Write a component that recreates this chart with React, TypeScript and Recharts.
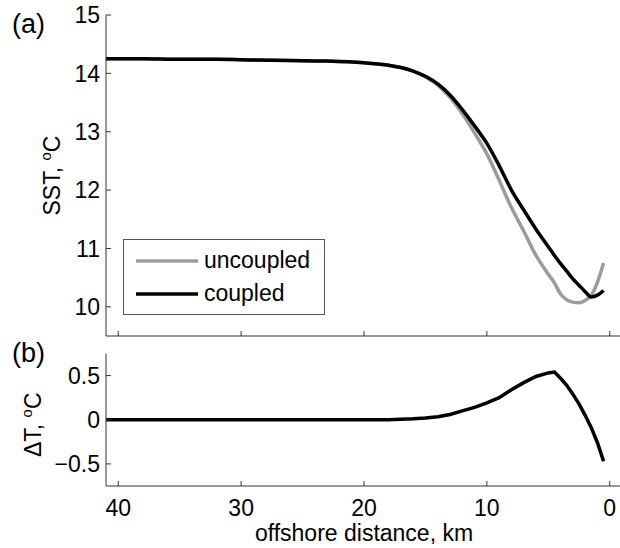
import { LineChart, Line, XAxis, YAxis, Legend, Label } from 'recharts';

// offshore distance (km) and the values
const distanceKm = [41, 38, 35, 32, 29, 26, 23, 20, 18, 17, 16, 15, 14, 13, 12, 11, 10, 9, 8, 7, 6, 5, 4.5, 4, 3.5, 3, 2.5, 2, 1.5, 1, 0.5];
const coupledSst = [14.25, 14.25, 14.24, 14.24, 14.23, 14.22, 14.21, 14.18, 14.14, 14.1, 14.04, 13.95, 13.82, 13.63, 13.38, 13.1, 12.8, 12.42, 12.0, 11.66, 11.33, 11.03, 10.88, 10.74, 10.61, 10.48, 10.37, 10.26, 10.17, 10.2, 10.28];
const uncoupledSst = [14.25, 14.25, 14.24, 14.24, 14.23, 14.22, 14.21, 14.18, 14.14, 14.1, 14.04, 13.94, 13.8, 13.59, 13.31, 12.98, 12.62, 12.17, 11.7, 11.3, 10.88, 10.56, 10.41, 10.22, 10.12, 10.08, 10.07, 10.11, 10.2, 10.42, 10.75];
const deltaT = [0, 0, 0, 0, 0, 0, 0, 0, 0, 0.005, 0.01, 0.02, 0.035, 0.06, 0.1, 0.14, 0.19, 0.25, 0.34, 0.42, 0.49, 0.53, 0.54, 0.47, 0.39, 0.29, 0.18, 0.05, -0.09, -0.26, -0.47];

const seriesOrder = ['uncoupled', 'coupled'];
const xTicks = [0, 10, 20, 30, 40];
const sstTicks = [10, 11, 12, 13, 14, 15];
const dtTicks = [-0.5, 0, 0.5];

const FONT = '"Liberation Sans", Arial, Helvetica, sans-serif';
const AXIS = '#333';
const FS = 23;

const sstData = distanceKm.map((km, i) => ({ km, uncoupled: uncoupledSst[i], coupled: coupledSst[i] }));
const dtData = distanceKm.map((km, i) => ({ km, dt: deltaT[i] }));

const tickStyle = { fill: '#000', fontSize: FS, fontFamily: FONT };
const blank = () => '';
const minus = (v: number) => String(v).replace('-', '\u2212');

function SstLabel({ viewBox }: any) {
  const cy = viewBox.y + viewBox.height / 2;
  return (
    <g fontFamily={FONT} fill="#000">
      <text x={12} y={33} fontSize={27}>(a)</text>
      <text transform={`translate(60, ${cy}) rotate(-90)`} textAnchor="middle" fontSize={FS}>
        SST, <tspan dy={-9} fontSize={15}>o</tspan><tspan dy={9}>C</tspan>
      </text>
    </g>
  );
}

function DtLabel({ viewBox }: any) {
  const cy = viewBox.y + viewBox.height / 2;
  return (
    <g fontFamily={FONT} fill="#000">
      <text x={12} y={26} fontSize={27}>(b)</text>
      <text transform={`translate(41, ${cy + 5}) rotate(-90)`} textAnchor="middle" fontSize={FS}>
        ΔT, <tspan dy={-9} fontSize={15}>o</tspan><tspan dy={9}>C</tspan>
      </text>
    </g>
  );
}

function XLabel({ viewBox }: any) {
  return (
    <text x={viewBox.x + viewBox.width / 2} y={205} textAnchor="middle" fontFamily={FONT} fontSize={FS} fill="#000">
      offshore distance, km
    </text>
  );
}

function LegendBox({ payload }: any) {
  const items = [...(payload || [])].sort((a: any, b: any) => seriesOrder.indexOf(a.value) - seriesOrder.indexOf(b.value));
  return (
    <div style={{ width: 202, height: 76, boxSizing: 'border-box', border: '1px solid #555', background: '#fff', paddingTop: 4, fontFamily: FONT, fontSize: FS }}>
      {items.map((e: any) => (
        <div key={e.value} style={{ display: 'flex', alignItems: 'center', height: 33 }}>
          <svg width={80} height={10} style={{ marginLeft: 12 }}>
            <line x1={0} x2={62} y1={5} y2={5} stroke={e.color} strokeWidth={3.5} />
          </svg>
          <span style={{ marginLeft: -12, lineHeight: '33px' }}>{e.value}</span>
        </div>
      ))}
    </div>
  );
}

export default function App() {
  return (
    <div style={{ position: 'absolute', left: 0, top: 0, width: 620, height: 548, overflow: 'hidden', background: '#fff' }}>
      <div style={{ position: 'absolute', left: 0, top: 0 }}>
        <LineChart width={622} height={337} data={sstData} margin={{ top: 15, right: 0, bottom: 0, left: 0 }}>
          <XAxis xAxisId="b" dataKey="km" type="number" domain={[-1, 41]} reversed allowDataOverflow ticks={xTicks} height={1} tickSize={-5} tickFormatter={blank} stroke={AXIS} />
          <XAxis xAxisId="t" orientation="top" dataKey="km" type="number" domain={[-1, 41]} reversed allowDataOverflow ticks={xTicks} height={0} tickSize={-5} tickFormatter={blank} stroke={AXIS} />
          <YAxis yAxisId="l" type="number" domain={[9.5, 15]} allowDataOverflow ticks={sstTicks} width={106} tickSize={-5} tickMargin={11} tick={tickStyle} stroke={AXIS}>
            <Label content={SstLabel} />
          </YAxis>
          <YAxis yAxisId="r" orientation="right" type="number" domain={[9.5, 15]} allowDataOverflow ticks={sstTicks} width={0} tickSize={-5} tickFormatter={blank} stroke={AXIS} />
          <Legend layout="horizontal" align="center" verticalAlign="middle" content={LegendBox} wrapperStyle={{ left: 123, top: 239, width: 202, height: 76 }} />
          <Line xAxisId="b" yAxisId="l" dataKey="uncoupled" name="uncoupled" type="monotone" stroke="#9c9c9c" strokeWidth={3.5} dot={false} isAnimationActive={false} />
          <Line xAxisId="b" yAxisId="l" dataKey="coupled" name="coupled" type="monotone" stroke="#000" strokeWidth={3.5} dot={false} isAnimationActive={false} />
        </LineChart>
      </div>
      <div style={{ position: 'absolute', left: 0, top: 336 }}>
        <LineChart width={622} height={212} data={dtData} margin={{ top: 17.5, right: 0, bottom: 0, left: 0 }}>
          <XAxis xAxisId="b" dataKey="km" type="number" domain={[-1, 41]} reversed allowDataOverflow ticks={xTicks} height={62} tickSize={-5} tickMargin={19} tick={tickStyle} stroke={AXIS}>
            <Label content={XLabel} />
          </XAxis>
          <XAxis xAxisId="t" orientation="top" dataKey="km" type="number" domain={[-1, 41]} reversed allowDataOverflow ticks={xTicks} height={0} tickSize={-5} tickFormatter={blank} stroke={AXIS} />
          <YAxis yAxisId="l" type="number" domain={[-0.75, 0.75]} allowDataOverflow ticks={dtTicks} width={106} tickSize={-5} tickMargin={11} tick={tickStyle} tickFormatter={minus} stroke={AXIS}>
            <Label content={DtLabel} />
          </YAxis>
          <YAxis yAxisId="r" orientation="right" type="number" domain={[-0.75, 0.75]} allowDataOverflow ticks={dtTicks} width={0} tickSize={-5} tickFormatter={blank} stroke={AXIS} />
          <Line xAxisId="b" yAxisId="l" dataKey="dt" type="linear" stroke="#000" strokeWidth={3.5} dot={false} isAnimationActive={false} />
        </LineChart>
      </div>
    </div>
  );
}
